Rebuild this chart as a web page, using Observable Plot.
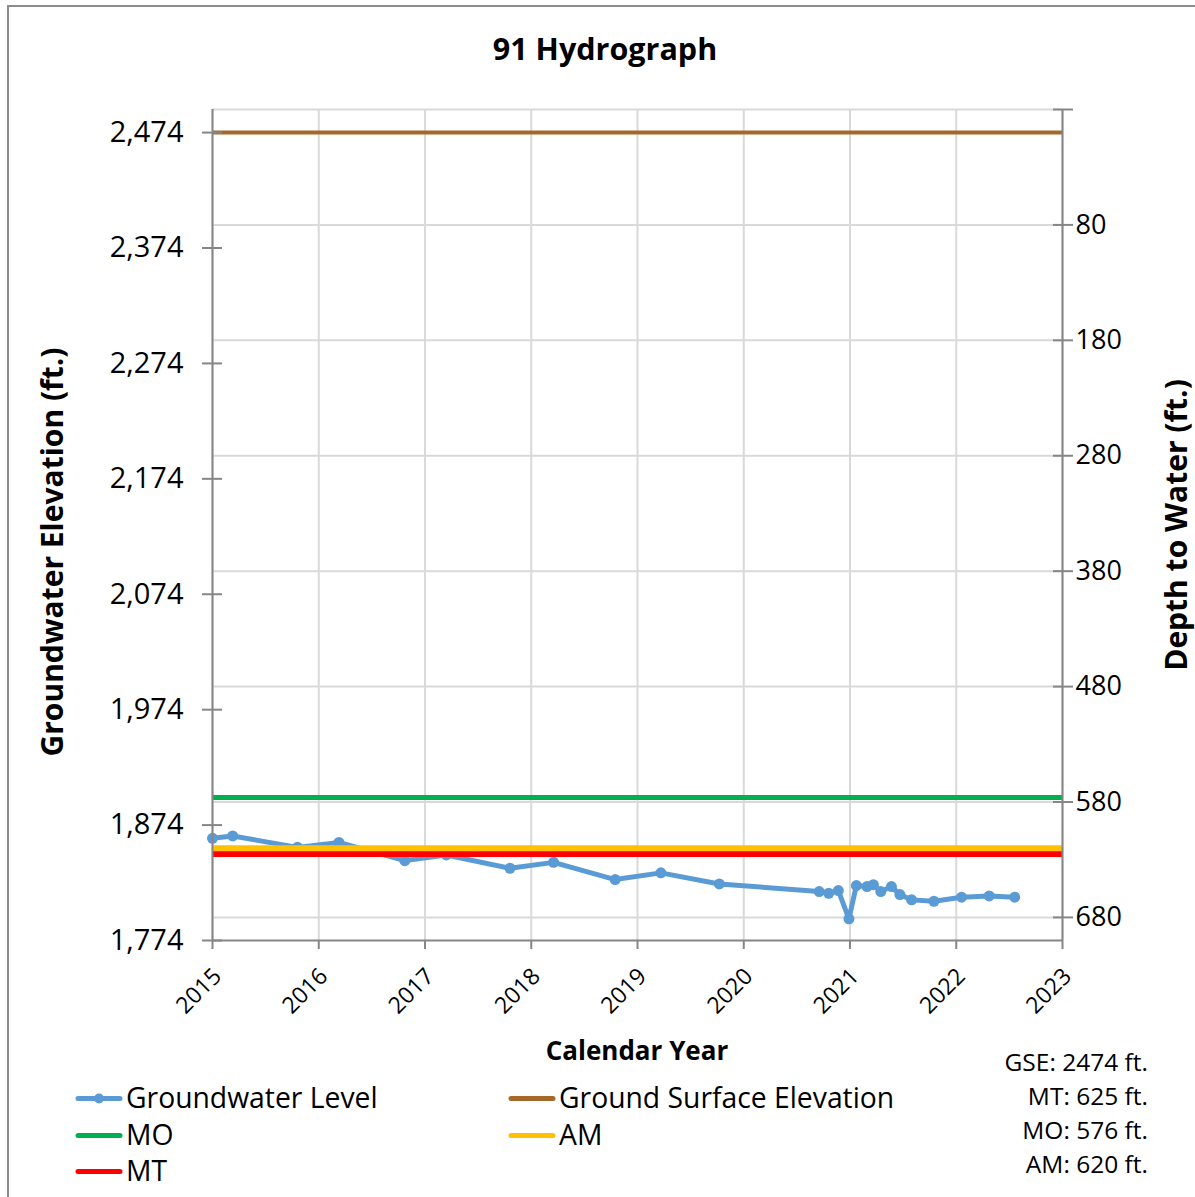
<!DOCTYPE html>
<html>
<head>
<meta charset="utf-8">
<script src="https://cdn.jsdelivr.net/npm/d3@7"></script>
<script src="https://cdn.jsdelivr.net/npm/@observablehq/plot@0.6"></script>
<style>
  body { margin: 0; background: #fff; font-family: "Open Sans", sans-serif; color: #000; }
  #wrap { position: relative; width: 1195px; height: 1197px; overflow: hidden; background: #fff; }
  #frame { position: absolute; left: 7px; top: 5px; width: 1300px; height: 1300px; border-left: 2px solid #8c8c8c; border-top: 2px solid #8c8c8c; box-sizing: border-box; }
  #chart { position: absolute; left: 0; top: 0; }
  .t { position: absolute; white-space: nowrap; transform: translate(-50%, -50%); line-height: 1; }
  .title { font-weight: 700; font-size: 30.5px; }
  .axt { font-weight: 700; font-size: 26px; }
  .big { font-size: 30px; }
  .rot { transform: translate(-50%, -50%) rotate(-90deg); }
  .leg { position: absolute; white-space: nowrap; font-size: 28.3px; transform: translateY(-50%); display: flex; align-items: center; line-height: 1.1; }
  .leg svg { display: block; margin-right: 3px; }
  .stat { position: absolute; right: 47px; white-space: nowrap; font-size: 24.5px; transform: translateY(-50%); text-align: right; line-height: 1.1; }
</style>
</head>
<body>
<div id="wrap">
  <div id="frame"></div>
  <div id="chart"></div>
</div>
<script>
// ---- data ----
const chartTitle = "91 Hydrograph";
const GSE = 2474;          // ground surface elevation (ft)
const MT = 625;            // minimum threshold depth (ft)
const MO = 576;            // measurable objective depth (ft)
const AM = 620;            // action/alert depth (ft)

const gwYears = [2015.00, 2015.19, 2015.80, 2016.19, 2016.81, 2017.20, 2017.80, 2018.21, 2018.79, 2019.22, 2019.77,
                 2020.71, 2020.80, 2020.89, 2020.99, 2021.06, 2021.16, 2021.22, 2021.29, 2021.39, 2021.47, 2021.58,
                 2021.79, 2022.05, 2022.31, 2022.55];
const gwLevels = [1862.5, 1864.6, 1854.7, 1859.0, 1843.2, 1848.1, 1836.6, 1841.7, 1826.8, 1832.6, 1823.0,
                  1816.4, 1814.9, 1817.3, 1792.8, 1821.6, 1820.7, 1822.4, 1816.4, 1820.7, 1813.8, 1809.2,
                  1808.0, 1811.5, 1812.6, 1811.5];

const xTicks = [2015, 2016, 2017, 2018, 2019, 2020, 2021, 2022, 2023];
const leftTicks = [1774, 1874, 1974, 2074, 2174, 2274, 2374, 2474];
const rightTickDepths = [-20, 80, 180, 280, 380, 480, 580, 680];
const rightLabelDepths = [80, 180, 280, 380, 480, 580, 680];
const yDomain = [1774, 2494];
const xDomain = [2015, 2023];

const legendItems = [
  {label: "Groundwater Level", color: "#5b9bd5", marker: true},
  {label: "Ground Surface Elevation", color: "#a5682a"},
  {label: "MO", color: "#00b050"},
  {label: "AM", color: "#ffc000"},
  {label: "MT", color: "#ff0000"}
];
const statLines = [`GSE: ${GSE} ft.`, `MT: ${MT} ft.`, `MO: ${MO} ft.`, `AM: ${AM} ft.`];

// ---- build ----
const gw = gwYears.map((x, i) => ({x, y: gwLevels[i]}));
const axisColor = "#868686";
const gridColor = "#d9d9d9";

const chart = Plot.plot({
  width: 1195,
  height: 1040,
  marginLeft: 212,
  marginRight: 133,
  marginTop: 109,
  marginBottom: 100,
  x: {domain: xDomain},
  y: {domain: yDomain},
  style: {fontFamily: "'Open Sans', sans-serif", color: "#000", background: "transparent", overflow: "visible"},
  marks: [
    Plot.gridX(xTicks, {stroke: gridColor, strokeOpacity: 1, strokeWidth: 2}),
    Plot.gridY(rightTickDepths.map(d => GSE - d), {stroke: gridColor, strokeOpacity: 1, strokeWidth: 2}),
    Plot.line(gw, {x: "x", y: "y", stroke: "#5b9bd5", strokeWidth: 5, strokeLinejoin: "round", strokeLinecap: "round"}),
    Plot.dot(gw, {x: "x", y: "y", r: 5.5, fill: "#5b9bd5", stroke: "none"}),
    Plot.ruleY([GSE], {stroke: "#a5682a", strokeWidth: 4}),
    Plot.ruleY([GSE - MO], {stroke: "#00b050", strokeWidth: 5}),
    Plot.ruleY([GSE - MT], {stroke: "#ff0000", strokeWidth: 6}),
    Plot.ruleY([GSE - AM], {stroke: "#ffc000", strokeWidth: 6}),
    // axis lines
    Plot.ruleX([xDomain[0]], {stroke: axisColor, strokeWidth: 2}),
    Plot.ruleX([xDomain[1]], {stroke: axisColor, strokeWidth: 2}),
    Plot.ruleY([yDomain[0]], {stroke: axisColor, strokeWidth: 2}),
    // left axis ticks (crossing) and labels
    Plot.axisY(leftTicks, {anchor: "left", tickSize: 20, dx: 10, tickFormat: () => "", stroke: axisColor, strokeWidth: 2, label: null}),
    Plot.axisY(leftTicks, {anchor: "left", tickSize: 0, tickPadding: 29, tickFormat: d3.format(","), fontSize: 29, label: null}),
    // right axis ticks (crossing) and labels
    Plot.axisY(rightTickDepths.map(d => GSE - d), {anchor: "right", tickSize: 20, dx: -10, tickFormat: () => "", stroke: axisColor, strokeWidth: 2, label: null}),
    Plot.axisY(rightLabelDepths.map(d => GSE - d), {anchor: "right", tickSize: 0, tickPadding: 13, tickFormat: d => String(GSE - d), fontSize: 27, label: null}),
    // x axis ticks and labels
    Plot.axisX(xTicks, {anchor: "bottom", tickSize: 9, stroke: axisColor, strokeWidth: 2, tickFormat: () => "", label: null}),
    Plot.axisX(xTicks, {anchor: "bottom", tickSize: 0, tickRotate: -45, tickPadding: 32, dx: 5, tickFormat: d => String(d), fontSize: 23, label: null})
  ]
});
document.getElementById("chart").appendChild(chart);

const wrap = document.getElementById("wrap");
function addText(cls, txt, x, y) {
  const el = document.createElement("div");
  el.className = cls;
  el.textContent = txt;
  el.style.left = x + "px";
  el.style.top = y + "px";
  wrap.appendChild(el);
  return el;
}
addText("t title", chartTitle, 605, 48);
addText("t axt big rot", "Groundwater Elevation (ft.)", 52, 552);
addText("t axt big rot", "Depth to Water (ft.)", 1176, 525);
addText("t axt", "Calendar Year", 637, 1050);

const legPos = [[75, 1098], [508, 1098], [75, 1135], [508, 1135], [75, 1171]];
legendItems.forEach((it, i) => {
  const el = document.createElement("div");
  el.className = "leg";
  el.style.left = legPos[i][0] + "px";
  el.style.top = legPos[i][1] + "px";
  const sw = `<svg width="48" height="14"><line x1="3" y1="7" x2="45" y2="7" stroke="${it.color}" stroke-width="5" stroke-linecap="round"/>${it.marker ? `<circle cx="24" cy="7" r="5" fill="${it.color}"/>` : ""}</svg>`;
  el.innerHTML = sw + `<span>${it.label}</span>`;
  wrap.appendChild(el);
});
statLines.forEach((s, i) => {
  const el = document.createElement("div");
  el.className = "stat";
  el.textContent = s;
  el.style.top = (1062 + i * 34) + "px";
  wrap.appendChild(el);
});
</script>
</body>
</html>
